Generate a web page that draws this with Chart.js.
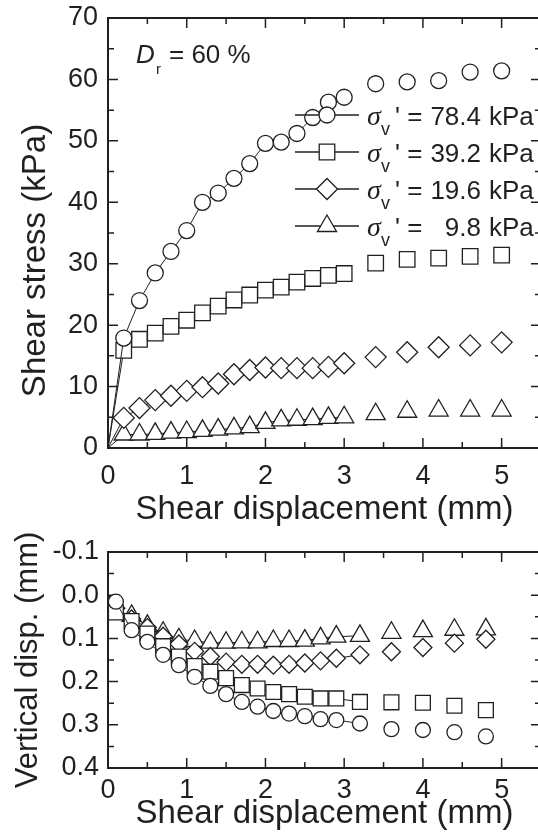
<!DOCTYPE html>
<html>
<head>
<meta charset="utf-8">
<script src="https://cdn.jsdelivr.net/npm/chart.js@4.4.1/dist/chart.umd.min.js"></script>
<style>
  html, body { margin: 0; padding: 0; background: #fff; width: 538px; height: 834px; overflow: hidden; }
  canvas { position: absolute; left: 0; }
  #stress-chart { top: 0; }
  #vert-chart { top: 530px; }
</style>
</head>
<body>
<canvas id="stress-chart" width="542" height="530"></canvas>
<canvas id="vert-chart" width="542" height="304"></canvas>
<script>
const TEXT = '#231f20';
const FONT = "'Liberation Sans', Arial, Helvetica, sans-serif";

// normal stress of each test (kPa)
const stressLevels = ['78.4', '39.2', '19.6', '9.8'];

// shear stress (kPa) vs shear displacement (mm)
const stressX = [0.2, 0.4, 0.6, 0.8, 1.0, 1.2, 1.4, 1.6, 1.8, 2.0, 2.2, 2.4, 2.6, 2.8, 3.0, 3.4, 3.8, 4.2, 4.6, 5.0];
const stress784 = [17.9, 24.0, 28.5, 32.0, 35.4, 40.0, 41.5, 43.9, 46.3, 49.6, 49.8, 51.2, 53.8, 56.3, 57.1, 59.3, 59.6, 59.8, 61.2, 61.4];
const stress392 = [15.9, 17.7, 18.7, 19.8, 20.8, 22.0, 23.1, 24.1, 24.9, 25.7, 26.2, 27.0, 27.6, 28.1, 28.4, 30.1, 30.7, 30.9, 31.2, 31.4];
const stress196 = [4.9, 6.5, 7.8, 8.5, 9.3, 9.9, 10.5, 12.0, 12.7, 13.1, 13.0, 13.0, 13.0, 13.2, 13.8, 14.8, 15.6, 16.4, 16.7, 17.2];
const stress98 = [2.2, 2.2, 2.3, 2.5, 2.6, 2.8, 3.0, 3.2, 3.4, 4.1, 4.5, 4.6, 4.7, 4.9, 5.0, 5.5, 5.9, 6.1, 6.1, 6.1];

// vertical displacement (mm, settlement positive) vs shear displacement (mm)
const vertX = [0.1, 0.3, 0.5, 0.7, 0.9, 1.1, 1.3, 1.5, 1.7, 1.9, 2.1, 2.3, 2.5, 2.7, 2.9, 3.2, 3.6, 4.0, 4.4, 4.8];
const vert784 = [0.015, 0.081, 0.108, 0.138, 0.162, 0.189, 0.210, 0.229, 0.247, 0.258, 0.268, 0.274, 0.280, 0.287, 0.289, 0.297, 0.310, 0.312, 0.317, 0.327];
const vert392 = [0.040, 0.060, 0.089, 0.118, 0.142, 0.164, 0.177, 0.192, 0.208, 0.216, 0.224, 0.229, 0.235, 0.239, 0.239, 0.247, 0.248, 0.249, 0.256, 0.266];
const vert196 = [0.030, 0.055, 0.075, 0.095, 0.113, 0.130, 0.142, 0.155, 0.160, 0.160, 0.162, 0.160, 0.157, 0.152, 0.146, 0.138, 0.131, 0.121, 0.111, 0.102];
const vert98 = [0.035, 0.048, 0.071, 0.087, 0.102, 0.106, 0.110, 0.110, 0.109, 0.109, 0.106, 0.106, 0.105, 0.100, 0.096, 0.094, 0.087, 0.083, 0.080, 0.079];

const markerStyles = ['circle', 'rect', 'rectRot', 'triangle'];
const stressRadii = [8, 11, 10.5, 11];
const vertRadii = [7.5, 10.5, 9, 11];

function isMultiple(v, step) {
    const r = v / step;
    return Math.abs(r - Math.round(r)) < 1e-6;
}

// the curve starts at the origin; only the markers are drawn after 3 mm
function makeDataset(xs, ys, i, radii) {
    const points = [{ x: 0, y: 0 }].concat(ys.map((y, k) => ({ x: xs[k], y })));
    return {
        data: points,
        showLine: true,
        borderColor: TEXT,
        borderWidth: 1,
        pointStyle: markerStyles[i],
        pointRadius: ctx => ctx.dataIndex === 0 ? 0 : radii[i],
        pointBackgroundColor: '#fff',
        pointBorderColor: TEXT,
        pointBorderWidth: 1.3,
        segment: {
            borderColor: ctx => ctx.p0.parsed.x >= 2.95 ? 'rgba(0,0,0,0)' : TEXT
        }
    };
}

// fixed axis size, no extra room for the end labels
function fixSize(prop, value) {
    return s => {
        s[prop] = value;
        s.paddingTop = 0;
        s.paddingBottom = 0;
        s.paddingLeft = 0;
        s.paddingRight = 0;
    };
}

// box round the plot with inward ticks on all four sides
const framePlugin = {
    id: 'frame',
    beforeDatasetsDraw(chart, args, opts) {
        const { ctx, chartArea: a, scales: { x, y } } = chart;
        ctx.save();
        ctx.strokeStyle = TEXT;
        ctx.lineWidth = 1.5;
        ctx.beginPath();
        x.ticks.forEach(t => {
            const px = x.getPixelForValue(t.value);
            const len = isMultiple(t.value, opts.xMajor) ? 10 : 6;
            ctx.moveTo(px, a.bottom); ctx.lineTo(px, a.bottom - len);
            ctx.moveTo(px, a.top); ctx.lineTo(px, a.top + len);
        });
        y.ticks.forEach(t => {
            const py = y.getPixelForValue(t.value);
            const len = isMultiple(t.value, opts.yMajor) ? 10 : 6;
            ctx.moveTo(a.left, py); ctx.lineTo(a.left + len, py);
            ctx.moveTo(a.right, py); ctx.lineTo(a.right - len, py);
        });
        ctx.stroke();
        ctx.lineWidth = 2;
        ctx.strokeRect(a.left, a.top, a.right - a.left, a.bottom - a.top);
        ctx.restore();
    }
};

// Dr label and the legend with subscripts
const notesPlugin = {
    id: 'notes',
    afterDatasetsDraw(chart) {
        const ctx = chart.ctx;
        ctx.save();
        ctx.fillStyle = TEXT;
        ctx.strokeStyle = TEXT;
        ctx.textBaseline = 'alphabetic';
        ctx.textAlign = 'left';

        ctx.font = `italic 26px ${FONT}`;
        ctx.fillText('D', 136, 63);
        ctx.font = `15px ${FONT}`;
        ctx.fillText('r', 156, 74);
        ctx.font = `26px ${FONT}`;
        ctx.fillText('= 60 %', 169, 63);

        stressLevels.forEach((level, i) => {
            const yy = 115 + i * 37;
            ctx.lineWidth = 1.3;
            ctx.beginPath();
            ctx.moveTo(295, yy);
            ctx.lineTo(359, yy);
            ctx.stroke();
            ctx.fillStyle = '#fff';
            Chart.helpers.drawPoint(ctx, { pointStyle: markerStyles[i], radius: stressRadii[i], rotation: 0, borderWidth: 1.3 }, 327, yy);
            ctx.fillStyle = TEXT;

            ctx.textAlign = 'left';
            ctx.font = `italic 28px 'Liberation Serif', 'Times New Roman', serif`;
            ctx.fillText('\u03c3', 367, yy + 10);
            ctx.font = `18px ${FONT}`;
            ctx.fillText('v', 381, yy + 20);
            ctx.font = `26px ${FONT}`;
            ctx.fillText("' =", 395, yy + 10);
            ctx.textAlign = 'right';
            ctx.fillText(level, 481, yy + 10);
            ctx.textAlign = 'left';
            ctx.fillText('kPa', 489, yy + 10);
        });
        ctx.restore();
    }
};

function xScale(height, pad, titlePad) {
    return {
        type: 'linear',
        min: 0,
        max: 5.5,
        grid: { display: false, drawTicks: false },
        border: { display: false },
        ticks: {
            stepSize: 0.5,
            autoSkip: false,
            maxRotation: 0,
            padding: pad,
            color: TEXT,
            font: { family: FONT, size: 27 },
            callback: v => isMultiple(v, 1) ? Math.round(v) : ''
        },
        title: {
            display: true,
            text: 'Shear displacement (mm)',
            color: TEXT,
            font: { family: FONT, size: 33 },
            padding: { top: titlePad, bottom: 0 }
        },
        afterFit: fixSize('height', height)
    };
}

new Chart(document.getElementById('stress-chart'), {
    type: 'scatter',
    data: {
        datasets: [
            makeDataset(stressX, stress784, 0, stressRadii),
            makeDataset(stressX, stress392, 1, stressRadii),
            makeDataset(stressX, stress196, 2, stressRadii),
            makeDataset(stressX, stress98, 3, stressRadii)
        ]
    },
    options: {
        responsive: false,
        animation: false,
        events: [],
        layout: { autoPadding: false, padding: { left: 0, right: 1, top: 18, bottom: 0 } },
        plugins: {
            legend: { display: false },
            tooltip: { enabled: false },
            frame: { xMajor: 1, yMajor: 10 }
        },
        scales: {
            x: xScale(82, 12, 4),
            y: {
                type: 'linear',
                min: 0,
                max: 70,
                grid: { display: false, drawTicks: false },
                border: { display: false },
                ticks: {
                    stepSize: 5,
                    autoSkip: false,
                    padding: 10,
                    color: TEXT,
                    font: { family: FONT, size: 27 },
                    callback: v => isMultiple(v, 10) ? Math.round(v) : ''
                },
                title: {
                    display: true,
                    text: 'Shear stress (kPa)      ',
                    color: TEXT,
                    font: { family: FONT, size: 33 },
                    padding: { top: 16, bottom: 0 }
                },
                afterFit: fixSize('width', 108)
            }
        }
    },
    plugins: [framePlugin, notesPlugin]
});

new Chart(document.getElementById('vert-chart'), {
    type: 'scatter',
    data: {
        datasets: [
            makeDataset(vertX, vert784, 0, vertRadii),
            makeDataset(vertX, vert392, 1, vertRadii),
            makeDataset(vertX, vert196, 2, vertRadii),
            makeDataset(vertX, vert98, 3, vertRadii)
        ]
    },
    options: {
        responsive: false,
        animation: false,
        events: [],
        layout: { autoPadding: false, padding: { left: 0, right: 1, top: 22, bottom: 0 } },
        plugins: {
            legend: { display: false },
            tooltip: { enabled: false },
            frame: { xMajor: 1, yMajor: 0.1 }
        },
        scales: {
            x: xScale(66, 6, 0),
            y: {
                type: 'linear',
                min: -0.1,
                max: 0.4,
                reverse: true,
                grid: { display: false, drawTicks: false },
                border: { display: false },
                ticks: {
                    stepSize: 0.05,
                    autoSkip: false,
                    padding: 9,
                    color: TEXT,
                    font: { family: FONT, size: 27 },
                    callback: v => isMultiple(v, 0.1) ? v.toFixed(1) : ''
                },
                title: {
                    display: true,
                    text: 'Vertical disp. (mm)',
                    color: TEXT,
                    font: { family: FONT, size: 31 },
                    padding: { top: 10, bottom: 0 }
                },
                afterFit: fixSize('width', 108)
            }
        }
    },
    plugins: [framePlugin]
});
</script>
</body>
</html>
